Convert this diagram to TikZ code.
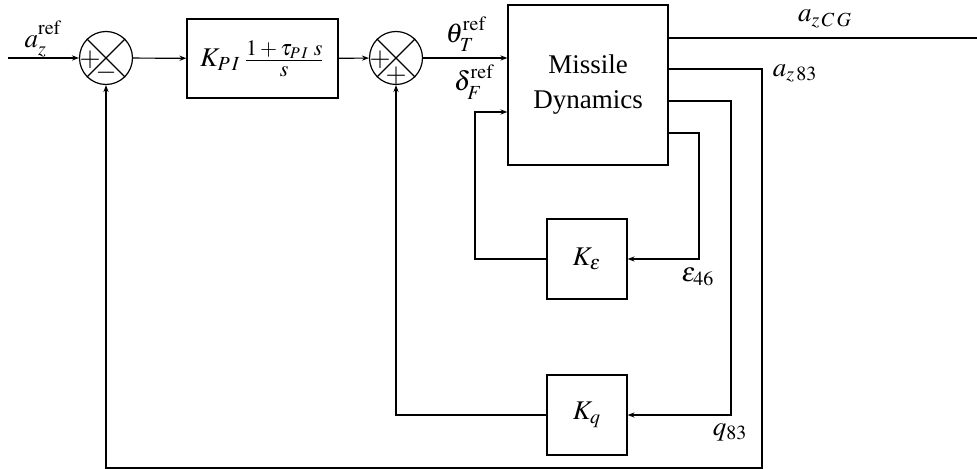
\documentclass[tikz,border=0pt]{standalone}
\usepackage{mathptmx}
\usepackage[no-math]{fontspec}
\setmainfont{Liberation Serif}
\DeclareMathSizes{13.5}{13.5}{10}{7.5}
\usetikzlibrary{arrows.meta}

\newcommand{\refsig}[2]{#1^{\raisebox{1.5pt}{$\scriptstyle\mathrm{ref}$}}_{\raisebox{-1pt}{$\scriptstyle #2$}}}

\begin{document}
\begin{tikzpicture}[
        x=0.5pt, y=-0.5pt,
        font=\fontsize{13.5}{16}\selectfont,
        block/.style={rectangle, draw, thick, inner sep=0pt},
        sumnode/.style={circle, draw, thick, minimum size=26.5pt, inner sep=0pt},
        arrow/.style={-{Stealth[length=3.5pt, width=2.6pt]}, thick},
        thick/.style={line width=0.6pt}
    ]
    \useasboundingbox (0,0) rectangle (977,469);

    % Forward path
    \coordinate (in) at (8,58);
    \node[sumnode] (sum1) at (106,58) {};
    \draw[thick] (sum1.north west) -- (sum1.south east);
    \draw[thick] (sum1.north east) -- (sum1.south west);
    \node (p1) at (90,60) {$+$};
    \node (m1) at (106,73) {$-$};
    \node[block, minimum width=75.5pt, minimum height=39.5pt] (pi) at (262.5,58.5)
        {$K_{P\,I}\,\frac{\mbox{\fontsize{11}{12}\selectfont$1+\tau_{P\,I}\;s$}}%
            {\mbox{\fontsize{11}{12}\selectfont$s$}}$};
    \node[sumnode] (sum2) at (396,58) {};
    \draw[thick] (sum2.north west) -- (sum2.south east);
    \draw[thick] (sum2.north east) -- (sum2.south west);
    \node (p2) at (380,60) {$+$};
    \node (p3) at (396,76) {$+$};
    \node[block, minimum width=80pt, minimum height=80pt, align=center,
        font=\fontsize{13.5}{17.5}\selectfont] (md) at (588,85) {Missile\\Dynamics};

    % Feedback gains
    \node[block, minimum width=40pt, minimum height=40pt] (keps) at (587,259) {$K_{\varepsilon}$};
    \node[block, minimum width=40pt, minimum height=40pt] (kq) at (587,415) {$K_q$};

    \draw[arrow] (in) -- (sum1);
    \draw[arrow] (sum1) -- (pi);
    \draw[arrow] (pi) -- (sum2);
    \draw[arrow] (sum2) -- (sum2 -| md.west);
    \draw[arrow] (keps) -| (475,112) -- (md.west |- 0,112);

    % Outputs
    \coordinate (out) at (987,38);
    \draw[arrow] (md.east |- out) -- (out);
    \draw[arrow] (md.east |- 0,69) -| (762,468) -| (sum1);
    \draw[arrow] (md.east |- 0,101) -| (731,415) -- (kq);
    \draw[arrow] (md.east |- 0,133) -| (699,259) -- (keps);
    \draw[arrow] (kq) -| (sum2);

    % Signal labels
    \node (azref) at (43,39) {$\refsig{a}{z}$};
    \node (thref) at (466,34) {$\refsig{\theta}{T}$};
    \node (dref) at (474,82) {$\refsig{\delta}{F}$};
    \node (azcg) at (825,19) {$a_{z\,C\,G}$};
    \node (az83) at (795,73) {$a_{z\,83}$};
    \node (eps46) at (698,277) {$\varepsilon_{46}$};
    \node (q83) at (730,432) {$q_{83}$};
\end{tikzpicture}
\end{document}
